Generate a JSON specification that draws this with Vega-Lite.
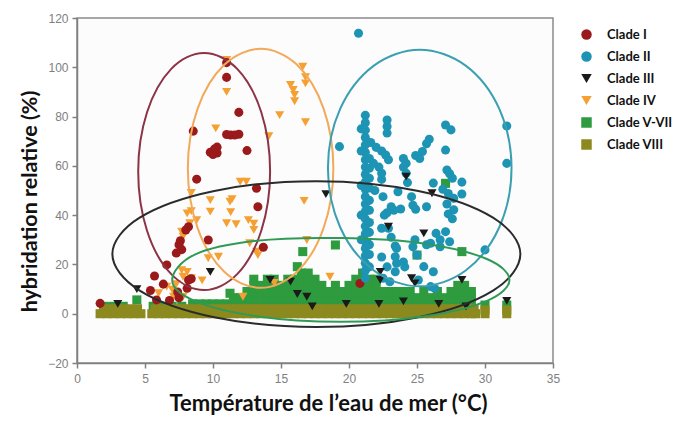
{
"$schema":"https://vega.github.io/schema/vega-lite/v6.json",
"autosize":"none",
"width":476,"height":345,
"padding":{"left":77,"top":18,"right":126,"bottom":60},
"background":"white",
"config":{"view":{"stroke":"#8a8a8a","strokeWidth":1.5,"fill":"#fcfcfc"},"font":"Lato"},
"datasets":{
"pts":[
{"c":"V-VII","x":2.0,"y":3},{"c":"V-VII","x":2.7,"y":3},{"c":"V-VII","x":3.4,"y":3},{"c":"V-VII","x":5.6,"y":3},{"c":"V-VII","x":6.3,"y":3},{"c":"V-VII","x":7.0,"y":3},{"c":"V-VII","x":7.7,"y":3},
{"c":"V-VII","x":8.5,"y":4},{"c":"V-VII","x":9,"y":4},{"c":"V-VII","x":9.5,"y":4},{"c":"V-VII","x":10,"y":4},{"c":"V-VII","x":10.5,"y":4},{"c":"V-VII","x":11,"y":4},{"c":"V-VII","x":11.5,"y":4},{"c":"V-VII","x":12,"y":4},{"c":"V-VII","x":12.5,"y":4},{"c":"V-VII","x":13,"y":4},{"c":"V-VII","x":13.5,"y":4},{"c":"V-VII","x":14,"y":4},{"c":"V-VII","x":14.5,"y":4},{"c":"V-VII","x":15,"y":4},{"c":"V-VII","x":15.5,"y":4},{"c":"V-VII","x":16,"y":4},{"c":"V-VII","x":16.5,"y":4},{"c":"V-VII","x":17,"y":4},{"c":"V-VII","x":17.5,"y":4},{"c":"V-VII","x":18,"y":4},{"c":"V-VII","x":18.5,"y":4},{"c":"V-VII","x":19,"y":4},{"c":"V-VII","x":19.5,"y":4},{"c":"V-VII","x":20,"y":4},{"c":"V-VII","x":20.5,"y":4},{"c":"V-VII","x":21,"y":4},{"c":"V-VII","x":21.5,"y":4},{"c":"V-VII","x":22,"y":4},{"c":"V-VII","x":22.5,"y":4},{"c":"V-VII","x":23,"y":4},{"c":"V-VII","x":23.5,"y":4},{"c":"V-VII","x":24,"y":4},{"c":"V-VII","x":24.5,"y":4},{"c":"V-VII","x":25,"y":4},{"c":"V-VII","x":25.5,"y":4},{"c":"V-VII","x":26,"y":4},{"c":"V-VII","x":26.5,"y":4},{"c":"V-VII","x":27,"y":4},{"c":"V-VII","x":27.5,"y":4},{"c":"V-VII","x":28,"y":4},{"c":"V-VII","x":28.5,"y":4},{"c":"V-VII","x":29,"y":4},
{"c":"V-VII","x":11.5,"y":6.5},{"c":"V-VII","x":12,"y":6.5},{"c":"V-VII","x":12.5,"y":6.5},{"c":"V-VII","x":13,"y":6.5},{"c":"V-VII","x":13.5,"y":6.5},{"c":"V-VII","x":14,"y":6.5},{"c":"V-VII","x":14.5,"y":6.5},{"c":"V-VII","x":15,"y":6.5},{"c":"V-VII","x":15.5,"y":6.5},{"c":"V-VII","x":16,"y":6.5},{"c":"V-VII","x":16.5,"y":6.5},{"c":"V-VII","x":17,"y":6.5},{"c":"V-VII","x":17.5,"y":6.5},{"c":"V-VII","x":18,"y":6.5},{"c":"V-VII","x":18.5,"y":6.5},{"c":"V-VII","x":19,"y":6.5},{"c":"V-VII","x":19.5,"y":6.5},{"c":"V-VII","x":20,"y":6.5},{"c":"V-VII","x":20.5,"y":6.5},{"c":"V-VII","x":21,"y":6.5},{"c":"V-VII","x":21.5,"y":6.5},{"c":"V-VII","x":22,"y":6.5},{"c":"V-VII","x":22.5,"y":6.5},{"c":"V-VII","x":23,"y":6.5},{"c":"V-VII","x":23.5,"y":6.5},{"c":"V-VII","x":24,"y":6.5},{"c":"V-VII","x":24.5,"y":6.5},{"c":"V-VII","x":25,"y":6.5},{"c":"V-VII","x":25.5,"y":6.5},{"c":"V-VII","x":26,"y":6.5},{"c":"V-VII","x":26.5,"y":6.5},{"c":"V-VII","x":27,"y":6.5},{"c":"V-VII","x":27.5,"y":6.5},{"c":"V-VII","x":28,"y":6.5},{"c":"V-VII","x":28.5,"y":6.5},{"c":"V-VII","x":29,"y":6.5},
{"c":"V-VII","x":12.5,"y":9},{"c":"V-VII","x":13,"y":9},{"c":"V-VII","x":13.5,"y":9},{"c":"V-VII","x":14,"y":9},{"c":"V-VII","x":14.5,"y":9},{"c":"V-VII","x":15,"y":9},{"c":"V-VII","x":15.5,"y":9},{"c":"V-VII","x":16,"y":9},{"c":"V-VII","x":16.5,"y":9},{"c":"V-VII","x":17,"y":9},{"c":"V-VII","x":17.5,"y":9},{"c":"V-VII","x":18,"y":9},{"c":"V-VII","x":18.5,"y":9},{"c":"V-VII","x":19,"y":9},{"c":"V-VII","x":19.5,"y":9},{"c":"V-VII","x":20,"y":9},{"c":"V-VII","x":20.5,"y":9},{"c":"V-VII","x":21,"y":9},{"c":"V-VII","x":21.5,"y":9},{"c":"V-VII","x":22,"y":9},{"c":"V-VII","x":22.5,"y":9},{"c":"V-VII","x":23,"y":9},{"c":"V-VII","x":23.5,"y":9},{"c":"V-VII","x":24,"y":9},{"c":"V-VII","x":24.5,"y":9},{"c":"V-VII","x":25.5,"y":9},{"c":"V-VII","x":26.5,"y":9},{"c":"V-VII","x":27.5,"y":9},{"c":"V-VII","x":28,"y":9},{"c":"V-VII","x":28.5,"y":9},{"c":"V-VII","x":29,"y":9},
{"c":"V-VII","x":13,"y":11.5},{"c":"V-VII","x":13.5,"y":11.5},{"c":"V-VII","x":14,"y":11.5},{"c":"V-VII","x":14.5,"y":11.5},{"c":"V-VII","x":15,"y":11.5},{"c":"V-VII","x":15.5,"y":11.5},{"c":"V-VII","x":16,"y":11.5},{"c":"V-VII","x":16.5,"y":11.5},{"c":"V-VII","x":17,"y":11.5},{"c":"V-VII","x":17.5,"y":11.5},{"c":"V-VII","x":18,"y":11.5},{"c":"V-VII","x":19,"y":11.5},{"c":"V-VII","x":20,"y":11.5},{"c":"V-VII","x":20.5,"y":11.5},{"c":"V-VII","x":21,"y":11.5},{"c":"V-VII","x":21.5,"y":11.5},{"c":"V-VII","x":22,"y":11.5},{"c":"V-VII","x":28,"y":11.5},{"c":"V-VII","x":28.5,"y":11.5},
{"c":"V-VII","x":13,"y":14},{"c":"V-VII","x":14,"y":14},{"c":"V-VII","x":14.5,"y":14},{"c":"V-VII","x":15.5,"y":14},{"c":"V-VII","x":16,"y":14},{"c":"V-VII","x":16.5,"y":14},{"c":"V-VII","x":17,"y":14},{"c":"V-VII","x":17.5,"y":14},{"c":"V-VII","x":20.5,"y":14},{"c":"V-VII","x":21,"y":14},{"c":"V-VII","x":21.5,"y":14},{"c":"V-VII","x":22,"y":14},
{"c":"V-VII","x":16.5,"y":16.5},{"c":"V-VII","x":17,"y":16.5},{"c":"V-VII","x":21,"y":16.5},
{"c":"V-VII","x":16.6,"y":25.2},{"c":"V-VII","x":19.0,"y":27.9},{"c":"V-VII","x":27.1,"y":52.9},{"c":"V-VII","x":21.3,"y":28.6},{"c":"V-VII","x":25.0,"y":23.8},{"c":"V-VII","x":28.3,"y":25.2},{"c":"V-VII","x":16.2,"y":19.1},{"c":"V-VII","x":30.0,"y":3.5},{"c":"V-VII","x":31.6,"y":3.5},{"c":"V-VII","x":11.25,"y":8.3},{"c":"V-VII","x":4.4,"y":5.6},{"c":"V-VII","x":2.2,"y":2.8},
{"c":"VIII","x":1.7,"y":0},{"c":"VIII","x":2.2,"y":0},{"c":"VIII","x":2.7,"y":0},{"c":"VIII","x":3.2,"y":0},{"c":"VIII","x":3.7,"y":0},{"c":"VIII","x":4.2,"y":0},{"c":"VIII","x":4.7,"y":0},{"c":"VIII","x":5.5,"y":0},{"c":"VIII","x":6.0,"y":0},{"c":"VIII","x":6.5,"y":0},{"c":"VIII","x":7.0,"y":0},{"c":"VIII","x":7.5,"y":0},{"c":"VIII","x":8.0,"y":0},{"c":"VIII","x":8.5,"y":0},{"c":"VIII","x":9.0,"y":0},{"c":"VIII","x":9.5,"y":0},{"c":"VIII","x":10.0,"y":0},{"c":"VIII","x":10.5,"y":0},{"c":"VIII","x":11.0,"y":0},{"c":"VIII","x":11.5,"y":0},{"c":"VIII","x":12.0,"y":0},{"c":"VIII","x":12.5,"y":0},{"c":"VIII","x":13.0,"y":0},{"c":"VIII","x":13.5,"y":0},{"c":"VIII","x":14.0,"y":0},{"c":"VIII","x":14.5,"y":0},{"c":"VIII","x":15.0,"y":0},{"c":"VIII","x":15.5,"y":0},{"c":"VIII","x":16.0,"y":0},{"c":"VIII","x":16.5,"y":0},{"c":"VIII","x":17.0,"y":0},{"c":"VIII","x":17.5,"y":0},{"c":"VIII","x":18.0,"y":0},{"c":"VIII","x":18.5,"y":0},{"c":"VIII","x":19.0,"y":0},{"c":"VIII","x":19.5,"y":0},{"c":"VIII","x":20.0,"y":0},{"c":"VIII","x":20.5,"y":0},{"c":"VIII","x":21.0,"y":0},{"c":"VIII","x":21.5,"y":0},{"c":"VIII","x":22.0,"y":0},{"c":"VIII","x":22.5,"y":0},{"c":"VIII","x":23.0,"y":0},{"c":"VIII","x":23.5,"y":0},{"c":"VIII","x":24.0,"y":0},{"c":"VIII","x":24.5,"y":0},{"c":"VIII","x":25.0,"y":0},{"c":"VIII","x":25.5,"y":0},{"c":"VIII","x":26.0,"y":0},{"c":"VIII","x":26.5,"y":0},{"c":"VIII","x":27.0,"y":0},{"c":"VIII","x":27.5,"y":0},{"c":"VIII","x":28.0,"y":0},{"c":"VIII","x":28.5,"y":0},{"c":"VIII","x":29.0,"y":0},{"c":"VIII","x":29.3,"y":0},{"c":"VIII","x":30.0,"y":0},{"c":"VIII","x":31.6,"y":0},
{"c":"VIII","x":1.95,"y":2},{"c":"VIII","x":2.45,"y":2},{"c":"VIII","x":2.95,"y":2},{"c":"VIII","x":3.45,"y":2},{"c":"VIII","x":3.95,"y":2},{"c":"VIII","x":4.45,"y":2},{"c":"VIII","x":5.75,"y":2},{"c":"VIII","x":6.25,"y":2},{"c":"VIII","x":6.75,"y":2},{"c":"VIII","x":7.25,"y":2},{"c":"VIII","x":7.75,"y":2},{"c":"VIII","x":8.25,"y":2},{"c":"VIII","x":8.75,"y":2},{"c":"VIII","x":9.25,"y":2},{"c":"VIII","x":9.75,"y":2},{"c":"VIII","x":10.25,"y":2},{"c":"VIII","x":10.75,"y":2},{"c":"VIII","x":11.25,"y":2},{"c":"VIII","x":11.75,"y":2},{"c":"VIII","x":12.25,"y":2},{"c":"VIII","x":12.75,"y":2},{"c":"VIII","x":13.25,"y":2},{"c":"VIII","x":13.75,"y":2},{"c":"VIII","x":14.25,"y":2},{"c":"VIII","x":14.75,"y":2},{"c":"VIII","x":15.25,"y":2},{"c":"VIII","x":15.75,"y":2},{"c":"VIII","x":16.25,"y":2},{"c":"VIII","x":16.75,"y":2},{"c":"VIII","x":17.25,"y":2},{"c":"VIII","x":17.75,"y":2},{"c":"VIII","x":18.25,"y":2},{"c":"VIII","x":18.75,"y":2},{"c":"VIII","x":19.25,"y":2},{"c":"VIII","x":19.75,"y":2},{"c":"VIII","x":20.25,"y":2},{"c":"VIII","x":20.75,"y":2},{"c":"VIII","x":21.25,"y":2},{"c":"VIII","x":21.75,"y":2},{"c":"VIII","x":22.25,"y":2},{"c":"VIII","x":22.75,"y":2},{"c":"VIII","x":23.25,"y":2},{"c":"VIII","x":23.75,"y":2},{"c":"VIII","x":24.25,"y":2},{"c":"VIII","x":24.75,"y":2},{"c":"VIII","x":25.25,"y":2},{"c":"VIII","x":25.75,"y":2},{"c":"VIII","x":26.25,"y":2},{"c":"VIII","x":26.75,"y":2},{"c":"VIII","x":27.25,"y":2},{"c":"VIII","x":27.75,"y":2},{"c":"VIII","x":28.25,"y":2},{"c":"VIII","x":28.75,"y":2},{"c":"VIII","x":29.2,"y":2},{"c":"VIII","x":30.0,"y":1.5},{"c":"VIII","x":31.6,"y":1.5},
{"c":"IV","x":11.0,"y":103},{"c":"IV","x":11.0,"y":90},{"c":"IV","x":16.6,"y":100.2},{"c":"IV","x":16.8,"y":96},{"c":"IV","x":16.8,"y":93.5},{"c":"IV","x":15.7,"y":92.8},{"c":"IV","x":15.9,"y":90.8},{"c":"IV","x":16.0,"y":88.8},{"c":"IV","x":16.0,"y":86.2},{"c":"IV","x":14.9,"y":80.6},{"c":"IV","x":16.8,"y":77.7},{"c":"IV","x":10.2,"y":75.2},{"c":"IV","x":14.1,"y":72},{"c":"IV","x":12.0,"y":53.6},{"c":"IV","x":12.45,"y":53.6},{"c":"IV","x":8.4,"y":49},{"c":"IV","x":9.8,"y":46.1},{"c":"IV","x":11.4,"y":46.5},{"c":"IV","x":16.7,"y":45.8},{"c":"IV","x":11.3,"y":41.2},{"c":"IV","x":8.1,"y":40.7},{"c":"IV","x":8.4,"y":41.6},{"c":"IV","x":8.3,"y":36.7},{"c":"IV","x":8.8,"y":38},{"c":"IV","x":11.0,"y":36.7},{"c":"IV","x":11.7,"y":36.3},{"c":"IV","x":12.6,"y":38},{"c":"IV","x":13.0,"y":36.5},{"c":"IV","x":13.0,"y":34},{"c":"IV","x":7.7,"y":33.3},{"c":"IV","x":7.8,"y":31.3},{"c":"IV","x":12.7,"y":28.6},{"c":"IV","x":13.2,"y":25.2},{"c":"IV","x":13.3,"y":23.8},{"c":"IV","x":9.65,"y":22.5},{"c":"IV","x":10.4,"y":23.1},{"c":"IV","x":16.9,"y":29.9},{"c":"IV","x":18.6,"y":15},{"c":"IV","x":7.7,"y":17.7},{"c":"IV","x":8.1,"y":17},{"c":"IV","x":7.8,"y":15},{"c":"IV","x":8.4,"y":14.4},{"c":"IV","x":9.2,"y":13.5},{"c":"IV","x":7.1,"y":6.9},{"c":"IV","x":7.8,"y":6.9},{"c":"IV","x":6.6,"y":11},{"c":"IV","x":12.2,"y":6.9},{"c":"IV","x":21.5,"y":36.7},{"c":"IV","x":6.0,"y":8.3},{"c":"IV","x":7.0,"y":9.8},{"c":"IV","x":9.8,"y":41.4},{"c":"IV","x":11.25,"y":45.5},{"c":"IV","x":14.5,"y":12.5},{"c":"IV","x":7.3,"y":12},
{"c":"I","x":11.0,"y":101.9},{"c":"I","x":11.0,"y":95.9},{"c":"I","x":11.9,"y":81.7},{"c":"I","x":8.55,"y":74.1},{"c":"I","x":11.0,"y":72.7},{"c":"I","x":11.3,"y":72.5},{"c":"I","x":11.6,"y":72.5},{"c":"I","x":11.9,"y":72.8},{"c":"I","x":9.8,"y":65.5},{"c":"I","x":10.1,"y":66.8},{"c":"I","x":10.3,"y":67.6},{"c":"I","x":10.0,"y":64.6},{"c":"I","x":10.3,"y":65.2},{"c":"I","x":12.5,"y":66.2},{"c":"I","x":8.8,"y":54.6},{"c":"I","x":13.2,"y":50.9},{"c":"I","x":13.3,"y":43.4},{"c":"I","x":8.2,"y":35.3},{"c":"I","x":8.0,"y":34},{"c":"I","x":7.6,"y":29.6},{"c":"I","x":7.5,"y":28},{"c":"I","x":7.7,"y":26},{"c":"I","x":9.65,"y":29.9},{"c":"I","x":13.7,"y":27},{"c":"I","x":6.6,"y":19.8},{"c":"I","x":5.7,"y":15.3},{"c":"I","x":6.35,"y":12},{"c":"I","x":5.4,"y":9.4},{"c":"I","x":8.4,"y":14.2},{"c":"I","x":8.1,"y":10.3},{"c":"I","x":1.7,"y":4.2},{"c":"I","x":5.85,"y":5.6},{"c":"I","x":6.8,"y":5.4},{"c":"I","x":7.5,"y":6.5},{"c":"I","x":20.8,"y":12.3},{"c":"I","x":7.4,"y":8.8},{"c":"I","x":8.2,"y":13.7},{"c":"I","x":7.3,"y":24.6},
{"c":"II","x":20.7,"y":113.8},{"c":"II","x":31.6,"y":76.2},{"c":"II","x":31.6,"y":61},{"c":"II","x":19.3,"y":67.8},{"c":"II","x":30.0,"y":25.9},
{"c":"II","x":21.2,"y":80.5},{"c":"II","x":21.2,"y":77.5},{"c":"II","x":21.2,"y":74.5},{"c":"II","x":21.2,"y":71.5},{"c":"II","x":21.2,"y":68.5},{"c":"II","x":21.2,"y":65.5},{"c":"II","x":21.2,"y":62.5},{"c":"II","x":21.2,"y":59.5},{"c":"II","x":21.2,"y":56.5},{"c":"II","x":21.2,"y":53.5},{"c":"II","x":21.2,"y":50.5},{"c":"II","x":21.2,"y":47.5},{"c":"II","x":21.2,"y":44.5},{"c":"II","x":21.2,"y":41.5},{"c":"II","x":21.2,"y":38.5},{"c":"II","x":21.2,"y":35.5},{"c":"II","x":21.2,"y":32.5},{"c":"II","x":21.2,"y":29.5},{"c":"II","x":21.2,"y":26.5},{"c":"II","x":21.2,"y":23.5},{"c":"II","x":21.2,"y":20.5},{"c":"II","x":21.2,"y":17.5},{"c":"II","x":21.2,"y":14.5},
{"c":"II","x":21.5,"y":63},{"c":"II","x":21.5,"y":59},{"c":"II","x":21.5,"y":55},{"c":"II","x":21.5,"y":51},{"c":"II","x":21.5,"y":46},{"c":"II","x":21.5,"y":42},{"c":"II","x":21.5,"y":37},{"c":"II","x":21.5,"y":33},{"c":"II","x":21.5,"y":28},{"c":"II","x":21.5,"y":24},{"c":"II","x":21.5,"y":19},
{"c":"II","x":20.9,"y":75},{"c":"II","x":20.9,"y":66},{"c":"II","x":20.9,"y":52},{"c":"II","x":20.9,"y":40},{"c":"II","x":20.9,"y":30},
{"c":"II","x":22.8,"y":78.6},{"c":"II","x":22.8,"y":76},{"c":"II","x":22.8,"y":73.3},
{"c":"II","x":21.6,"y":69.5},{"c":"II","x":22.0,"y":67.5},{"c":"II","x":22.4,"y":66},{"c":"II","x":22.7,"y":64.4},{"c":"II","x":22.9,"y":62.5},
{"c":"II","x":21.8,"y":61},{"c":"II","x":22.2,"y":59.5},{"c":"II","x":22.4,"y":57},{"c":"II","x":22.4,"y":54.5},{"c":"II","x":22.5,"y":47.5},{"c":"II","x":21.9,"y":50},
{"c":"II","x":24.0,"y":63},{"c":"II","x":24.2,"y":61},{"c":"II","x":24.0,"y":59.5},{"c":"II","x":24.2,"y":57},{"c":"II","x":24.3,"y":53.2},
{"c":"II","x":24.9,"y":64.2},{"c":"II","x":25.2,"y":63},{"c":"II","x":25.4,"y":65.8},{"c":"II","x":25.7,"y":69},{"c":"II","x":25.9,"y":70.8},
{"c":"II","x":27.1,"y":76.6},{"c":"II","x":27.5,"y":74.6},{"c":"II","x":27.1,"y":66.4},
{"c":"II","x":27.2,"y":58.3},{"c":"II","x":27.4,"y":56.8},{"c":"II","x":27.6,"y":55},{"c":"II","x":26.2,"y":53},{"c":"II","x":28.3,"y":53.4},
{"c":"II","x":26.9,"y":50.5},{"c":"II","x":27.3,"y":48.8},{"c":"II","x":27.7,"y":46.8},{"c":"II","x":28.3,"y":48.6},{"c":"II","x":27.2,"y":44.5},{"c":"II","x":27.7,"y":42.2},
{"c":"II","x":24.6,"y":47.5},{"c":"II","x":24.7,"y":44},{"c":"II","x":24.9,"y":42.4},{"c":"II","x":25.7,"y":43.4},{"c":"II","x":23.6,"y":49.5},
{"c":"II","x":23.1,"y":43.4},{"c":"II","x":22.8,"y":41},{"c":"II","x":23.3,"y":42},{"c":"II","x":23.8,"y":42.5},{"c":"II","x":22.6,"y":40},
{"c":"II","x":22.4,"y":34.7},{"c":"II","x":22.9,"y":34.7},{"c":"II","x":23.1,"y":31},{"c":"II","x":23.4,"y":27.5},
{"c":"II","x":26.4,"y":32.6},{"c":"II","x":26.7,"y":30},{"c":"II","x":27.1,"y":33.3},{"c":"II","x":25.7,"y":28},{"c":"II","x":26.0,"y":28.6},{"c":"II","x":27.4,"y":29.2},{"c":"II","x":26.7,"y":27.2},
{"c":"II","x":24.7,"y":27.2},{"c":"II","x":24.85,"y":30},{"c":"II","x":23.5,"y":26.5},{"c":"II","x":23.4,"y":23.1},{"c":"II","x":23.5,"y":20.5},{"c":"II","x":23.4,"y":17},
{"c":"II","x":24.0,"y":21},{"c":"II","x":24.1,"y":19},{"c":"II","x":25.5,"y":19.1},{"c":"II","x":26.2,"y":17},{"c":"II","x":25.0,"y":23.8},
{"c":"II","x":22.4,"y":23},{"c":"II","x":22.8,"y":19},{"c":"II","x":22.5,"y":14.4},{"c":"II","x":23.0,"y":13},{"c":"II","x":25.1,"y":13.7},{"c":"II","x":26.0,"y":11},{"c":"II","x":26.3,"y":10.3},
{"c":"II","x":27.3,"y":40.5},{"c":"II","x":27.6,"y":38.5},
{"c":"III","x":3.0,"y":4},{"c":"III","x":4.4,"y":10},{"c":"III","x":9.8,"y":17},{"c":"III","x":18.3,"y":48.5},{"c":"III","x":24.2,"y":55.6},{"c":"III","x":26.1,"y":48.9},{"c":"III","x":22.9,"y":35.3},{"c":"III","x":25.5,"y":32.6},{"c":"III","x":22.3,"y":17},{"c":"III","x":22.3,"y":13.7},{"c":"III","x":24.6,"y":14.4},{"c":"III","x":24.85,"y":12.3},{"c":"III","x":28.3,"y":13.7},{"c":"III","x":31.6,"y":5.2},{"c":"III","x":14.2,"y":13.7},{"c":"III","x":15.7,"y":13},{"c":"III","x":16.2,"y":8},{"c":"III","x":17.3,"y":3},{"c":"III","x":19.8,"y":4},{"c":"III","x":22.2,"y":4},{"c":"III","x":24,"y":5},{"c":"III","x":26.6,"y":4},{"c":"III","x":28.6,"y":3},{"c":"III","x":16.9,"y":6.9}
],
"ell":[
{"e":"I","t":0,"x":14.2,"y":57.7},{"e":"I","t":1,"x":13.55,"y":81.75},{"e":"I","t":2,"x":11.78,"y":99.35},{"e":"I","t":3,"x":9.35,"y":105.8},{"e":"I","t":4,"x":6.93,"y":99.35},{"e":"I","t":5,"x":5.15,"y":81.75},{"e":"I","t":6,"x":4.5,"y":57.7},{"e":"I","t":7,"x":5.15,"y":33.65},{"e":"I","t":8,"x":6.93,"y":16.05},{"e":"I","t":9,"x":9.35,"y":9.6},{"e":"I","t":10,"x":11.78,"y":16.05},{"e":"I","t":11,"x":13.55,"y":33.65},
{"e":"IV","t":0,"x":18.85,"y":59},{"e":"IV","t":1,"x":18.13,"y":83.25},{"e":"IV","t":2,"x":16.18,"y":101},{"e":"IV","t":3,"x":13.5,"y":107.5},{"e":"IV","t":4,"x":10.83,"y":101},{"e":"IV","t":5,"x":8.87,"y":83.25},{"e":"IV","t":6,"x":8.15,"y":59},{"e":"IV","t":7,"x":8.87,"y":34.75},{"e":"IV","t":8,"x":10.83,"y":17},{"e":"IV","t":9,"x":13.5,"y":10.5},{"e":"IV","t":10,"x":16.18,"y":17},{"e":"IV","t":11,"x":18.13,"y":34.75},
{"e":"II","t":0,"x":31.95,"y":59.1},{"e":"II","t":1,"x":31.05,"y":83.1},{"e":"II","t":2,"x":28.58,"y":100.67},{"e":"II","t":3,"x":25.2,"y":107.1},{"e":"II","t":4,"x":21.83,"y":100.67},{"e":"II","t":5,"x":19.35,"y":83.1},{"e":"II","t":6,"x":18.45,"y":59.1},{"e":"II","t":7,"x":19.35,"y":35.1},{"e":"II","t":8,"x":21.83,"y":17.53},{"e":"II","t":9,"x":25.2,"y":11.1},{"e":"II","t":10,"x":28.58,"y":17.53},{"e":"II","t":11,"x":31.05,"y":35.1},
{"e":"III","t":0,"x":32.6,"y":24.2},{"e":"III","t":1,"x":30.59,"y":39},{"e":"III","t":2,"x":25.1,"y":49.83},{"e":"III","t":3,"x":17.6,"y":53.8},{"e":"III","t":4,"x":10.1,"y":49.83},{"e":"III","t":5,"x":4.61,"y":39},{"e":"III","t":6,"x":2.6,"y":24.2},{"e":"III","t":7,"x":4.61,"y":9.4},{"e":"III","t":8,"x":10.1,"y":-1.43},{"e":"III","t":9,"x":17.6,"y":-5.4},{"e":"III","t":10,"x":25.1,"y":-1.43},{"e":"III","t":11,"x":30.59,"y":9.4},
{"e":"V","t":0,"x":31.8,"y":13.7},{"e":"V","t":1,"x":30.14,"y":22.2},{"e":"V","t":2,"x":25.6,"y":28.42},{"e":"V","t":3,"x":19.4,"y":30.7},{"e":"V","t":4,"x":13.2,"y":29.6},{"e":"V","t":5,"x":8.66,"y":24},{"e":"V","t":6,"x":7.0,"y":13.7},{"e":"V","t":7,"x":8.66,"y":5.2},{"e":"V","t":8,"x":13.2,"y":-1.02},{"e":"V","t":9,"x":19.4,"y":-3.3},{"e":"V","t":10,"x":25.6,"y":-1.02},{"e":"V","t":11,"x":30.14,"y":5.2}
]
},
"layer":[
{"data":{"name":"pts"},
 "mark":{"type":"point","filled":true,"opacity":1,"size":82,"strokeWidth":0},
 "encoding":{
  "x":{"field":"x","type":"quantitative","scale":{"domain":[0,35],"nice":false,"zero":false},
   "axis":{"values":[0,5,10,15,20,25,30,35],"grid":false,"domainColor":"#808080","domainWidth":1.5,"tickColor":"#808080","tickSize":5,"tickWidth":1.5,"labelColor":"#808080","labelFont":"Liberation Sans","labelFontSize":12,"labelPadding":5,"labelFlush":false,"labelOverlap":false,"title":"Température de l’eau de mer (°C)","titleFont":"Lato","titleFontSize":22,"titleFontWeight":"bold","titleColor":"#111111","titlePadding":9,"titleX":251}},
  "y":{"field":"y","type":"quantitative","scale":{"domain":[-20,120],"nice":false,"zero":false},
   "axis":{"values":[-20,0,20,40,60,80,100,120],"grid":false,"domainColor":"#808080","domainWidth":1.5,"tickColor":"#808080","tickSize":5,"tickWidth":1.5,"labelColor":"#808080","labelFont":"Liberation Sans","labelFontSize":12,"labelPadding":4,"labelFlush":false,"labelOverlap":false,"title":"hybridation relative (%)","titleFont":"Lato","titleFontSize":21.5,"titleFontWeight":"bold","titleColor":"#111111","titlePadding":6,"titleY":183}},
  "color":{"field":"c","type":"nominal","scale":{"domain":["I","II","III","IV","V-VII","VIII"],"range":["#9a1a1c","#1e94b4","#1a1a1a","#f5a032","#2e9b3e","#8c8a1f"]},
   "legend":{"title":null,"orient":"none","legendX":503,"legendY":10,"labelExpr":"'Clade ' + datum.label","labelFont":"Lato","labelFontSize":13,"labelFontWeight":"bold","labelColor":"#111111","symbolSize":110,"rowPadding":8,"labelOffset":14}},
  "shape":{"field":"c","type":"nominal","scale":{"domain":["I","II","III","IV","V-VII","VIII"],"range":["circle","circle","triangle-down","triangle-down","square","square"]},
   "legend":{"title":null,"orient":"none","legendX":503,"legendY":10,"labelExpr":"'Clade ' + datum.label","labelFont":"Lato","labelFontSize":13,"labelFontWeight":"bold","labelColor":"#111111","symbolSize":110,"rowPadding":8,"labelOffset":14}}
 }},
{"data":{"name":"ell"},
 "mark":{"type":"line","interpolate":"cardinal-closed","strokeWidth":2},
 "encoding":{
  "x":{"field":"x","type":"quantitative"},
  "y":{"field":"y","type":"quantitative"},
  "stroke":{"field":"e","type":"nominal","scale":{"domain":["I","IV","II","III","V"],"range":["#8c3346","#f2a95a","#3b9fb2","#2b2b2b","#2f9a58"]},"legend":null},
  "order":{"field":"t","type":"quantitative"}
 }}
]
}
